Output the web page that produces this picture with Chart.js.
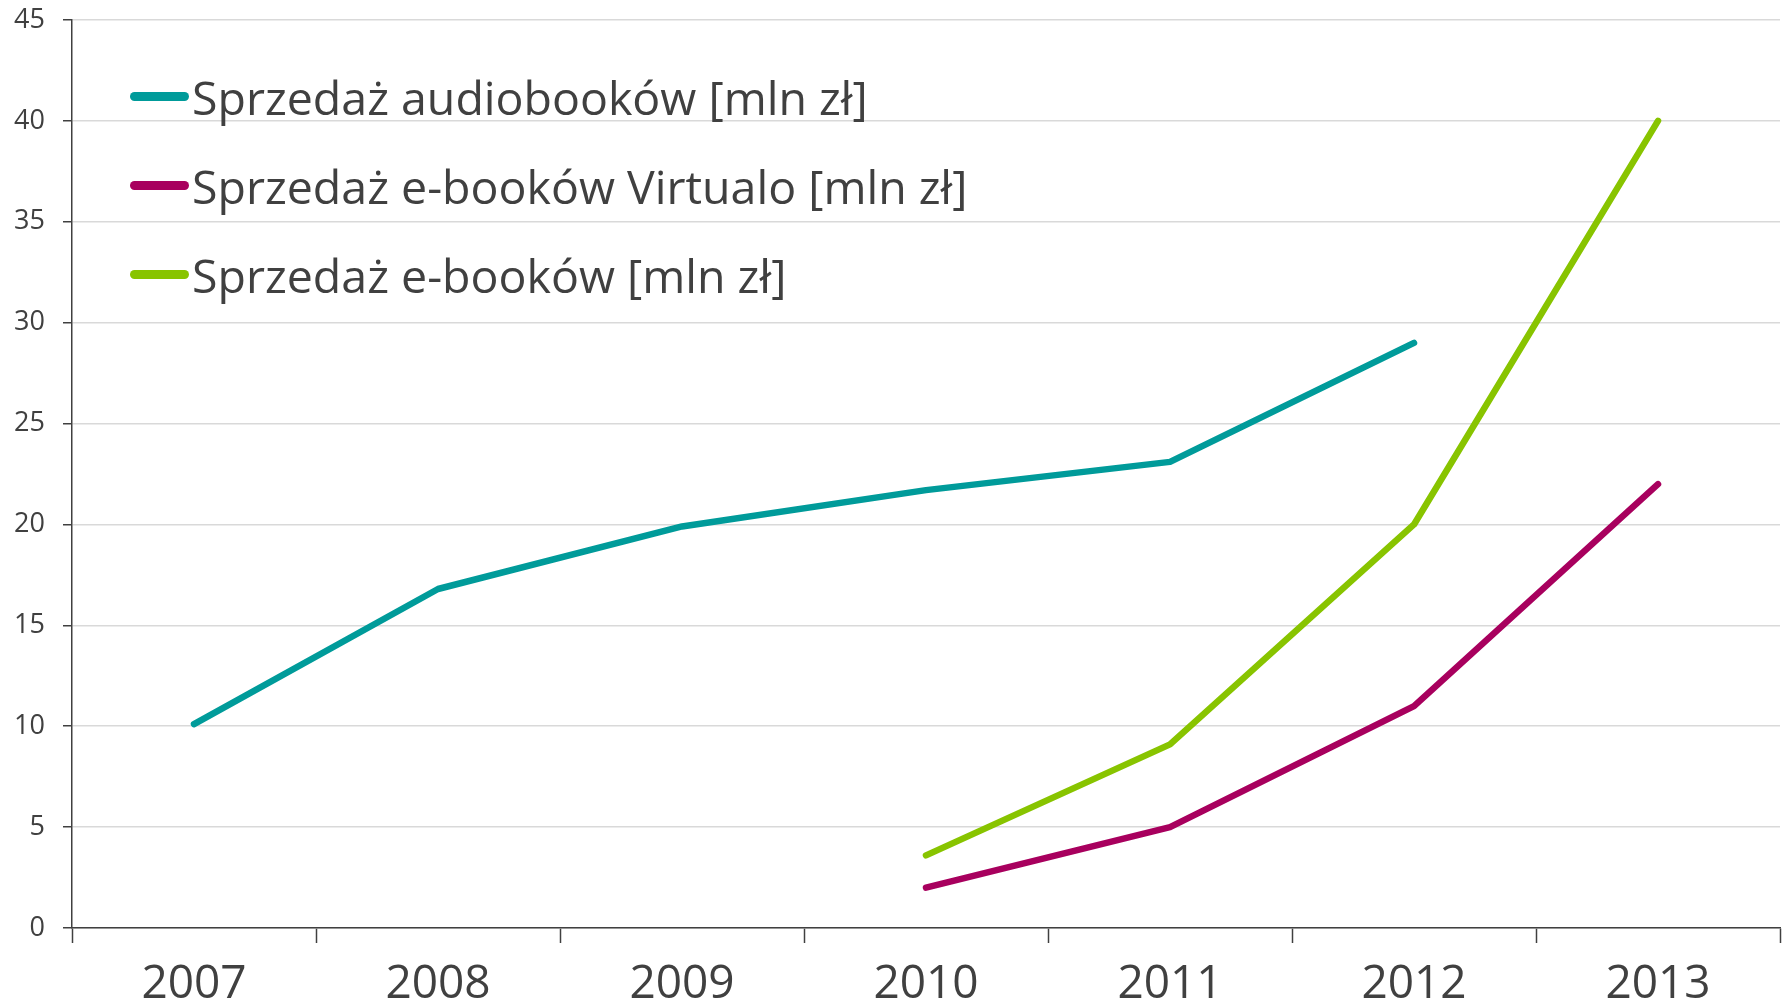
<!DOCTYPE html>
<html lang="pl">
<head>
<meta charset="utf-8">
<title>Sprzedaż książek elektronicznych i audiobooków</title>
<script src="https://cdn.jsdelivr.net/npm/chart.js@4/dist/chart.umd.min.js"></script>
<style>
    html, body { margin: 0; padding: 0; background: #ffffff; }
    #wrap { position: relative; width: 1791px; height: 1005px; }
    #legend {
        position: absolute; left: 130px; top: 52px;
        margin: 0; padding: 0; list-style: none;
        font-family: "Open Sans", sans-serif; font-size: 46.5px; color: #404040;
    }
    #legend li { display: flex; align-items: center; height: 89px; }
    #legend .swatch { width: 59px; height: 9px; border-radius: 5px; margin-right: 3px; }
</style>
</head>
<body>
<div id="wrap">
    <canvas id="chart" width="1791" height="1005"></canvas>
    <ul id="legend"></ul>
</div>
<script>
// dane
const years = ['2007', '2008', '2009', '2010', '2011', '2012', '2013'];
const audiobooki = [10.1, 16.8, 19.9, 21.7, 23.1, 29.0, null];
const ebookiVirtualo = [null, null, null, 2.0, 5.0, 11.0, 22.0];
const ebooki = [null, null, null, 3.6, 9.1, 20.0, 40.0];
const yMax = 45;
const yStep = 5;

const seriesNames = [
    'Sprzedaż audiobooków [mln zł]',
    'Sprzedaż e-booków Virtualo [mln zł]',
    'Sprzedaż e-booków [mln zł]'
];
const seriesColors = ['#009b9a', '#a8005e', '#88c400'];

function makeDataset(i, values) {
    return {
        label: seriesNames[i],
        data: values,
        borderColor: seriesColors[i],
        backgroundColor: seriesColors[i],
        borderWidth: 6.5,
        borderCapStyle: 'round',
        borderJoinStyle: 'round',
        pointRadius: 0,
        pointHoverRadius: 0,
        tension: 0,
        spanGaps: false
    };
}

const chart = new Chart(document.getElementById('chart'), {
    type: 'line',
    data: {
        labels: years,
        datasets: [
            makeDataset(0, audiobooki),
            makeDataset(1, ebookiVirtualo),
            makeDataset(2, ebooki)
        ]
    },
    options: {
        responsive: false,
        devicePixelRatio: 1,
        animation: false,
        layout: { padding: { top: 20, right: 11, left: 0, bottom: 0 } },
        plugins: {
            legend: { display: false },
            tooltip: { enabled: false }
        },
        scales: {
            x: {
                offset: true,
                grid: {
                    offset: true,
                    drawOnChartArea: false,
                    tickLength: 15,
                    tickColor: '#404040',
                    tickWidth: 1.5
                },
                border: { color: '#404040', width: 1.5 },
                ticks: {
                    color: '#404040',
                    padding: 14,
                    font: { family: 'Open Sans', size: 46 }
                },
                afterFit: function(scale) {
                    scale.height = 77;
                    scale.paddingLeft = 0;
                    scale.paddingRight = 0;
                }
            },
            y: {
                min: 0,
                max: yMax,
                grid: {
                    color: '#d9d9d9',
                    lineWidth: 1.5,
                    tickLength: 9,
                    tickColor: '#404040',
                    tickWidth: 1.5
                },
                border: { color: '#404040', width: 1.5 },
                ticks: {
                    stepSize: yStep,
                    color: '#404040',
                    padding: 18,
                    font: { family: 'Open Sans', size: 27 }
                },
                afterFit: function(scale) {
                    scale.width = 72;
                    scale.paddingTop = 0;
                    scale.paddingBottom = 0;
                }
            }
        }
    }
});

// legenda w HTML, budowana z serii wykresu
const legend = document.getElementById('legend');
legend.innerHTML = chart.data.datasets.map(ds => `
    <li><span class="swatch" style="background:${ds.borderColor}"></span><span>${ds.label}</span></li>
`).join('');
</script>
</body>
</html>
